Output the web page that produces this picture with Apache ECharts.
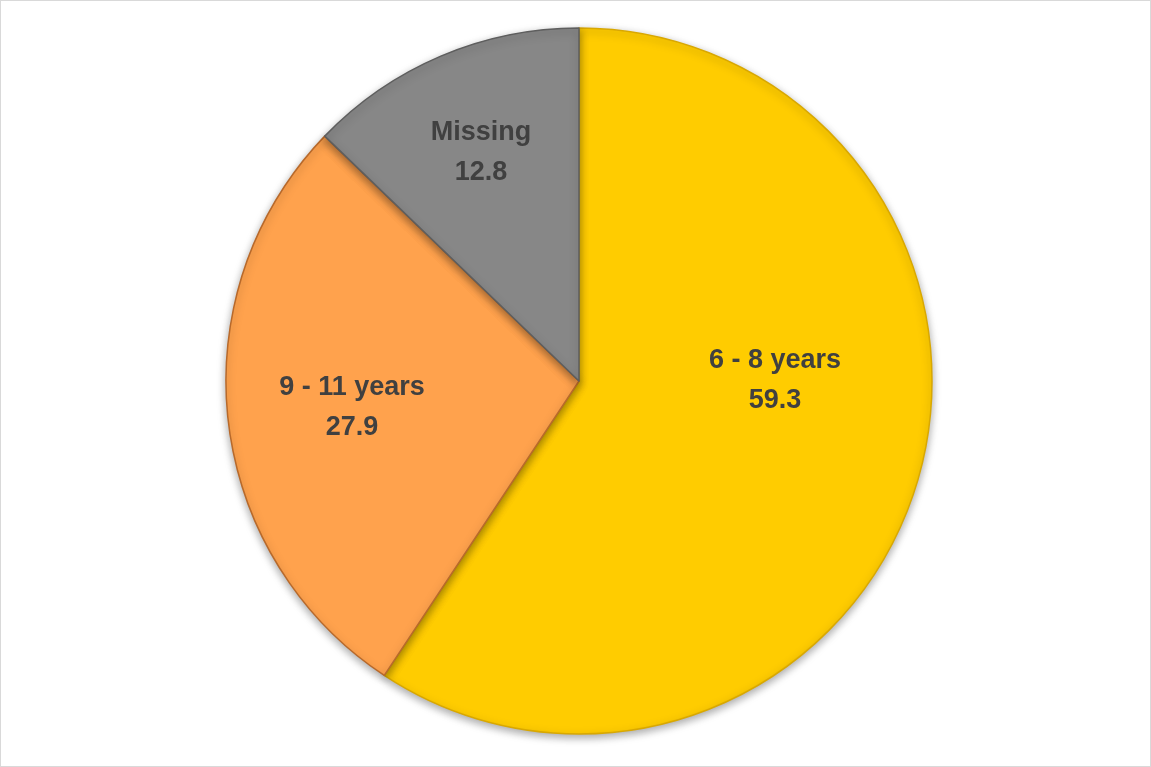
<!DOCTYPE html>
<html>
<head>
<meta charset="utf-8">
<script src="https://cdn.jsdelivr.net/npm/echarts@6/dist/echarts.min.js"></script>
<style>
html,body{margin:0;padding:0;background:#fff;}
#c{width:1151px;height:767px;box-sizing:border-box;border:1px solid #d9d9d9;}
</style>
</head>
<body>
<div id="c"></div>
<script>
const categories = ['6 - 8 years', '9 - 11 years', 'Missing'];
const values = [59.3, 27.9, 12.8];
const colors = ['#FFCC00', '#FFA24D', '#878787'];
const borders = ['#D9A800', '#B8692A', '#5E5E5E'];
// label anchor points (pixel placement, as in the reference)
const labelPos = [[774, 380], [351, 407], [480, 152]];

const chart = echarts.init(document.getElementById('c'));
chart.setOption({
  animation: false,
  series: [{
    type: 'pie',
    center: [578, 380],
    radius: [0, 353],
    startAngle: 90,
    clockwise: true,
    data: categories.map((n, i) => ({
      name: n, value: values[i],
      itemStyle: { color: colors[i], borderColor: borders[i] }
    })),
    itemStyle: {
      borderWidth: 1.5,
      shadowColor: 'rgba(0,0,0,0.35)',
      shadowBlur: 8,
      shadowOffsetY: 3
    },
    label: {
      show: true,
      position: 'inside',
      formatter: p => p.name + '\n' + p.value.toFixed(1),
      color: '#404040',
      fontFamily: 'Liberation Sans, Arial, sans-serif',
      fontWeight: 'bold',
      fontSize: 27,
      lineHeight: 40,
      align: 'center'
    },
    labelLine: { show: false },
    labelLayout: function (p) {
      const pos = labelPos[p.dataIndex];
      return { x: pos[0], y: pos[1], align: 'center', verticalAlign: 'middle' };
    }
  }]
});
</script>
</body>
</html>
